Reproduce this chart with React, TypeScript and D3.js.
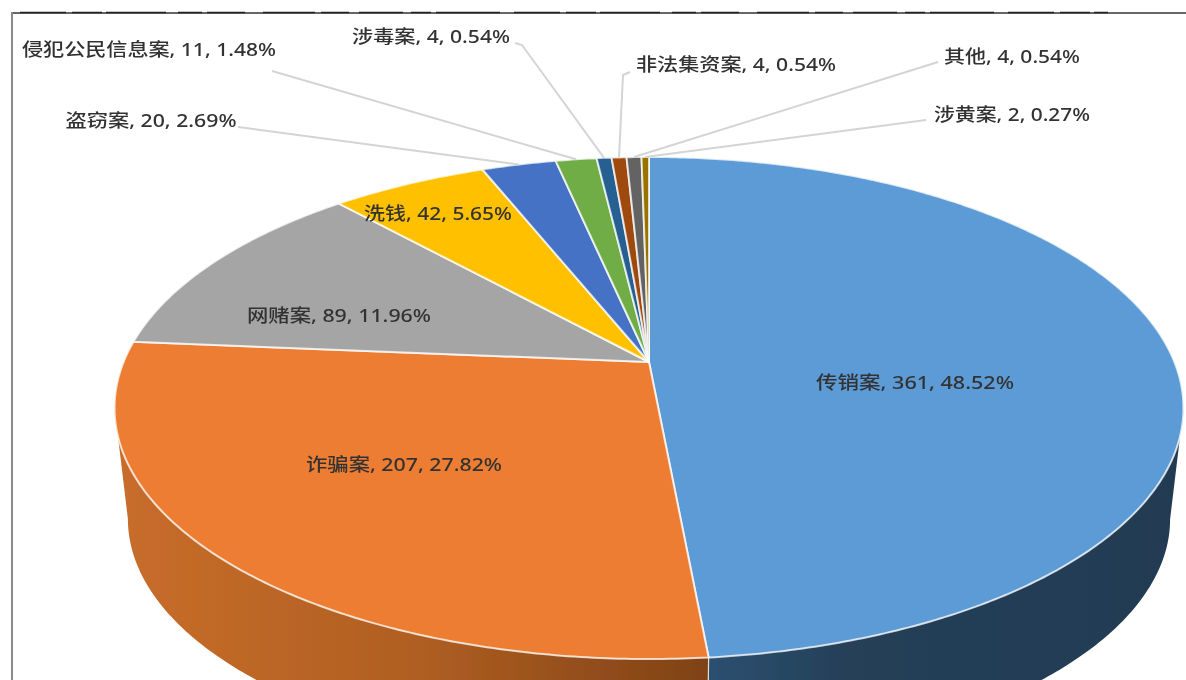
import * as d3 from "d3";

const categories = ["传销案", "诈骗案", "网赌案", "洗钱", "盗窃案", "侵犯公民信息案", "涉毒案", "非法集资案", "其他", "涉黄案"];
const counts = [361, 207, 89, 42, 20, 11, 4, 4, 4, 2];
const percents = ["48.52%", "27.82%", "11.96%", "5.65%", "2.69%", "1.48%", "0.54%", "0.54%", "0.54%", "0.27%"];
const colors = ["#5b9bd5", "#ed7d31", "#a5a5a5", "#ffc000", "#4472c4", "#70ad47", "#255e91", "#9e480e", "#636363", "#997300"];

// label centre and fitted width, same order as categories
const labelX = [915, 404, 339, 438, 151, 149, 431, 736, 1012, 1012];
const labelY = [382, 464, 315, 213, 120, 49, 36, 64, 56, 114];
const labelW = [198, 196, 184, 148, 171, 254, 158, 200, 136, 156];
// where the leader leaves the label, outside labels only
const leaderFrom: ([number, number][] | null)[] = [
  null,
  null,
  null,
  null,
  [[238, 127]],
  [[272, 71]],
  [[515, 43], [522, 45]],
  [[630, 72], [623, 75]],
  [[938, 62]],
  [[926, 120]],
];

const width = 1186;
const height = 680;

// tilted circle with perspective: near edge is bigger than far edge
const cx = 649;
const apexY = 362;
const persp = 0.1833;
const ax = 525.4;
const by = 242.6;
const ellipseMidY = 408;
const depthScale = 0.975;
const depthDrop = 111;

function project(a: number): [number, number] {
  const u = Math.sin(a);
  const v = -Math.cos(a);
  const w = 1 - persp * v;
  return [cx + (ax * u) / w, apexY + (by * v) / w];
}

function lower([x, y]: [number, number]): [number, number] {
  return [cx + depthScale * (x - cx), ellipseMidY + depthDrop + depthScale * (y - ellipseMidY)];
}

function arcPoints(a0: number, a1: number) {
  const n = Math.max(2, Math.ceil((a1 - a0) / 0.01));
  return d3.range(n + 1).map((i) => project(a0 + ((a1 - a0) * i) / n));
}

// walls only run between the silhouette points, else the strip folds over itself
const sweep = d3.range(0, 2 * Math.PI, 0.002);
const rightmost = d3.greatest(sweep, (a) => project(a)[0]) as number;
const leftmost = d3.least(sweep, (a) => project(a)[0]) as number;

export default function App() {
  const slices = d3.pie<number>().sort(null).value((d) => d)(counts);
  const line = d3.line();
  const seam = slices[0].endAngle;

  const topPath = (i: number) => {
    const s = slices[i];
    return line([[cx, apexY], ...arcPoints(s.startAngle, s.endAngle)]) + "Z";
  };
  const wallPath = (a0: number, a1: number) => {
    const top = arcPoints(a0, a1);
    return line([...top, ...top.map(lower).reverse()]) + "Z";
  };

  return (
    <svg
      width={width}
      height={height}
      viewBox={`0 0 ${width} ${height}`}
      style={{ position: "absolute", left: 0, top: 0, background: "#fff" }}
    >
      <defs>
        <filter id="soft" filterUnits="userSpaceOnUse" x="0" y="0" width={width} height={height}>
          <feGaussianBlur stdDeviation="0.7" />
        </filter>
        <linearGradient id="wallBlue" gradientUnits="userSpaceOnUse" x1="708" x2="1180" y1="0" y2="0">
          <stop offset="0" stopColor="#2b5070" />
          <stop offset="0.3" stopColor="#253f58" />
          <stop offset="1" stopColor="#223b52" />
        </linearGradient>
        <linearGradient id="wallOrange" gradientUnits="userSpaceOnUse" x1="118" x2="708" y1="0" y2="0">
          <stop offset="0" stopColor="#c86d2a" />
          <stop offset="0.5" stopColor="#b05f22" />
          <stop offset="1" stopColor="#7f4216" />
        </linearGradient>
      </defs>

      <g filter="url(#soft)">
        {/* frame of the cropped page */}
        <line x1={11} x2={width} y1={13} y2={13} stroke="#666" strokeWidth={1.8} />
        <line x1={12} x2={12} y1={12} y2={height} stroke="#8a8a8a" strokeWidth={2} />
        <line
          x1={20}
          x2={1108}
          y1={12.5}
          y2={12.5}
          stroke="#222"
          strokeWidth={1.4}
          strokeDasharray="46 6 30 4 60 12 24 5 38 18 52 6 28 10 44 8 20 5 64 14"
        />

        <path d={wallPath(rightmost, seam)} fill="url(#wallBlue)" />
        <path d={wallPath(seam, leftmost)} fill="url(#wallOrange)" />
        <line
          x1={project(seam)[0]}
          x2={lower(project(seam))[0]}
          y1={project(seam)[1]}
          y2={lower(project(seam))[1]}
          stroke="#e8dcd0"
          strokeWidth={1.2}
        />

        {slices.map((_, i) => (
          <path key={i} d={topPath(i)} fill={colors[i]} stroke="#fff" strokeOpacity={0.75} strokeWidth={2} strokeLinejoin="round" />
        ))}

        {leaderFrom.map((from, i) => {
          if (!from) return null;
          const s = slices[i];
          const end = project((s.startAngle + s.endAngle) / 2);
          return <path key={i} d={line([...from, end]) ?? ""} fill="none" stroke="#d4d4d4" strokeWidth={2} />;
        })}

        <g
          fontFamily="'Noto Sans', 'Noto Sans CJK SC', sans-serif"
          fontSize={18}
          fontWeight={500}
          fill="#333"
          textAnchor="middle"
          dominantBaseline="central"
        >
          {categories.map((c, i) => (
            <text key={c} x={labelX[i]} y={labelY[i]} textLength={labelW[i]} lengthAdjust="spacingAndGlyphs">
              {`${c}, ${counts[i]}, ${percents[i]}`}
            </text>
          ))}
        </g>
      </g>
    </svg>
  );
}
